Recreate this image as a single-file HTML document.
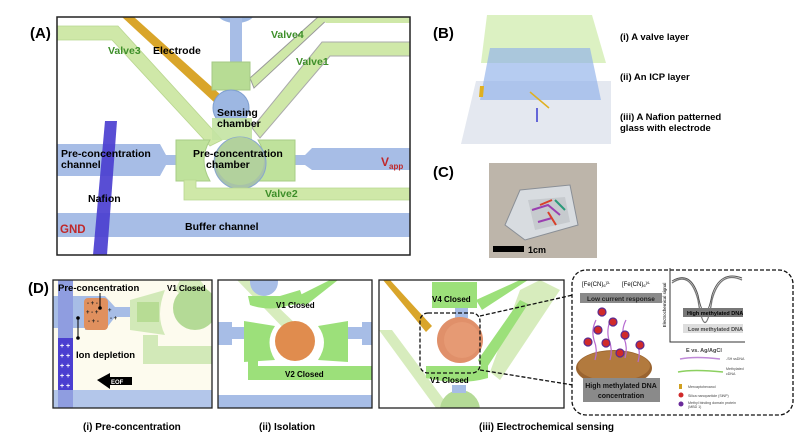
<!DOCTYPE html>
<html><head><meta charset="utf-8"><style>
html,body{margin:0;padding:0;background:#fff;}
svg{display:block;font-family:"Liberation Sans",Arial,sans-serif;font-weight:bold;}
</style></head><body>
<svg width="800" height="441" viewBox="0 0 800 441" xmlns="http://www.w3.org/2000/svg">
<text x="30" y="38" font-size="15">(A)</text>
<text x="433" y="38" font-size="15">(B)</text>
<text x="433" y="177" font-size="15">(C)</text>
<text x="28" y="293" font-size="15">(D)</text>

<defs><clipPath id="ca"><rect x="57" y="17" width="353" height="238"/></clipPath>
<clipPath id="c1"><rect x="53" y="280" width="159" height="128"/></clipPath>
<clipPath id="c2"><rect x="218" y="280" width="154" height="128"/></clipPath>
<clipPath id="c3"><rect x="379" y="280" width="185" height="128"/></clipPath></defs>
<g clip-path="url(#ca)">
<rect x="57" y="17" width="353" height="238" fill="#fff"/>
<polygon points="57,26 118,26 222,140 210,146 112,40 57,40" fill="#cfe8a8" stroke="#b9d690" stroke-width="0.8"/>
<polygon points="122,17 134,17 222,96 215,103" fill="#d9a52a"/>
<ellipse cx="236" cy="14" rx="18" ry="9" fill="#9db7e2"/>
<rect x="230" y="17" width="12" height="48" fill="#a7bde6"/>
<polygon points="250,78 318,17 330,17 254,88" fill="#cfe8a8" stroke="#999" stroke-width="1"/>
<polygon points="318,17 410,17 410,23 326,23" fill="#cfe8a8"/>
<polygon points="252,128 322,42 410,42 410,56 330,56 260,138" fill="#cfe8a8" stroke="#aaa" stroke-width="1"/>
<rect x="212" y="62" width="38" height="28" fill="#b7dc94" stroke="#a6c986"/>
<circle cx="231" cy="108" r="18" fill="#9db7e2" stroke="#7f9fd0"/>
<rect x="212" y="118" width="40" height="22" fill="#c3e3a2" opacity="0.9"/>
<polygon points="57,144 160,144 166,155 186,155 186,165 166,165 160,176 57,176" fill="#a7bde6"/>
<polygon points="285,155 305,155 312,148 410,148 410,170 312,170 305,165 285,165" fill="#a7bde6"/>
<path d="M176,140 L210,140 Q198,160 210,181 L176,181 Z" fill="#bfe29c" stroke="#a7cc86"/>
<path d="M295,140 L258,140 Q270,160 258,181 L295,181 Z" fill="#bfe29c" stroke="#a7cc86"/>
<circle cx="240" cy="163" r="26" fill="#a8c3a8" stroke="#88a6cf"/>
<circle cx="240" cy="161" r="24" fill="#b4d59a" opacity="0.8"/>
<polygon points="184,180 196,180 196,188 410,188 410,200 184,200" fill="#cfe8a8" stroke="#b9d690" stroke-width="0.8"/>
<rect x="57" y="213" width="353" height="24" fill="#a7bde6"/>
<polygon points="105,121 117,121 107,255 93,255" fill="#4b3fd0" opacity="0.92"/>
</g>
<rect x="57" y="17" width="353" height="238" fill="none" stroke="#222" stroke-width="1.5"/>
<g font-size="10.5">
<text x="108" y="54" fill="#3e8f2a">Valve3</text>
<text x="153" y="54">Electrode</text>
<text x="271" y="38" fill="#3e8f2a">Valve4</text>
<text x="296" y="65" fill="#3e8f2a">Valve1</text>
<text x="217" y="116">Sensing</text>
<text x="217" y="127">chamber</text>
<text x="61" y="157">Pre-concentration</text>
<text x="61" y="168">channel</text>
<text x="193" y="157">Pre-concentration</text>
<text x="206" y="168">chamber</text>
<text x="265" y="197" fill="#3e8f2a">Valve2</text>
<text x="88" y="202">Nafion</text>
<text x="185" y="230">Buffer channel</text>
<text x="60" y="233" fill="#c0282a" font-size="11.5">GND</text>
<text x="381" y="166" fill="#c0282a" font-size="12">V<tspan font-size="8" dy="3">app</tspan></text>
</g>

<!-- PANEL B -->
<polygon points="476,81 611,81 611,144 461,144" fill="#e4e8f0"/>
<polygon points="487,15 592,15 606,63 481,63" fill="#d8efbb" opacity="0.9"/>
<polygon points="490,48 590,48 601,100 480,100" fill="#8fb0ea" opacity="0.65"/>
<polygon points="480,86 484,86 483,97 479,97" fill="#e0b020"/>
<line x1="530" y1="92" x2="549" y2="108" stroke="#e0b020" stroke-width="1.5"/>
<line x1="537" y1="108" x2="537" y2="122" stroke="#3a3ad0" stroke-width="1.5"/>
<g font-size="9.5">
<text x="620" y="40">(i) A valve layer</text>
<text x="620" y="80">(ii) An ICP layer</text>
<text x="620" y="120">(iii) A Nafion patterned</text>
<text x="620" y="131">glass with electrode</text>
</g>

<!-- PANEL C -->
<rect x="489" y="163" width="108" height="95" fill="#bdb5aa"/>
<polygon points="520,190 570,185 578,225 525,240 505,225" fill="#d8dce0" stroke="#8a8f96"/>
<polygon points="528,200 565,197 570,222 535,230" fill="#c6cace"/>
<path d="M532,210 L548,205 L560,215 M538,222 L552,218" stroke="#9a3fb0" stroke-width="2" fill="none"/>
<path d="M540,205 L552,200 M548,212 L556,225" stroke="#d8402a" stroke-width="2" fill="none"/>
<path d="M555,200 L565,210" stroke="#2a9a7a" stroke-width="2" fill="none"/>
<rect x="493" y="246" width="31" height="6" fill="#000"/>
<text x="528" y="253" font-size="9">1cm</text>

<!-- box1 -->
<g clip-path="url(#c1)">
<rect x="53" y="280" width="159" height="128" fill="#fdfbee"/>
<rect x="53" y="296" width="40" height="32" fill="#a7bde6"/>
<rect x="53" y="390" width="159" height="18" fill="#b3c6ea"/>
<rect x="58" y="280" width="15" height="128" fill="#8f9de0"/>
<rect x="58" y="338" width="15" height="52" fill="#4b3fd0"/>
<g fill="#fff" font-size="7"><text x="60" y="348">+ +</text><text x="60" y="358">+ +</text><text x="60" y="368">+ +</text><text x="60" y="378">+ +</text><text x="60" y="388">+ +</text></g>
<polygon points="85,296 105,296 115,307 140,307 140,317 115,317 105,330 85,330" fill="#a7bde6"/>
<rect x="84" y="298" width="24" height="32" rx="4" fill="#e0905e"/>
<g fill="#222" font-size="6"><text x="87" y="305">- + -</text><text x="86" y="314">+ - +</text><text x="88" y="323">- + -</text><text x="108" y="312">+</text><text x="110" y="320">- +</text></g>
<polygon points="180,280 200,280 215,300 200,310 175,290" fill="#d7ecbd"/>
<path d="M130,300 L165,290 Q155,315 165,335 L130,330 Z" fill="#d2e9b8"/>
<rect x="137" y="302" width="22" height="20" fill="#b7dc94"/>
<rect x="143" y="335" width="15" height="15" fill="#d2e9b8"/>
<rect x="143" y="346" width="75" height="18" fill="#d2e9b8"/>
<circle cx="195" cy="308" r="22" fill="#b4da96"/>
<polygon points="97,380 110,373 110,377 132,377 132,385 110,385 110,389" fill="#000"/>
<text x="111" y="384" fill="#fff" font-size="6">EOF</text>
<line x1="100" y1="293" x2="100" y2="308" stroke="#000"/><circle cx="100" cy="308" r="1.8"/>
<line x1="78" y1="318" x2="78" y2="338" stroke="#000"/><circle cx="78" cy="318" r="1.8"/><circle cx="78" cy="338" r="1.8"/>
</g>
<rect x="53" y="280" width="159" height="128" fill="none" stroke="#222" stroke-width="1.3"/>
<text x="58" y="291" font-size="9.5">Pre-concentration</text>
<text x="167" y="291" font-size="8">V1 Closed</text>
<text x="76" y="358" font-size="9.5">Ion depletion</text>

<!-- box2 -->
<g clip-path="url(#c2)">
<rect x="218" y="280" width="154" height="128" fill="#fff"/>
<polygon points="237,280 250,280 300,328 290,335" fill="#d7ecbd"/>
<rect x="218" y="327" width="30" height="12" fill="#a7bde6"/>
<polygon points="218,322 232,322 232,345 218,345" fill="#a7bde6"/>
<rect x="345" y="327" width="27" height="12" fill="#a7bde6"/>
<rect x="362" y="322" width="10" height="23" fill="#a7bde6"/>
<circle cx="264" cy="282" r="14" fill="#a7bde6"/>
<path d="M248,296 L280,296 L300,290 L305,304 L290,305 Q270,312 250,305 Z" fill="#9ce07a"/>
<polygon points="298,296 330,280 338,280 305,306" fill="#9ce07a"/>
<path d="M244,321 L275,326 Q264,342 275,360 L244,362 Z" fill="#9ce07a"/>
<path d="M348,321 L318,326 Q330,342 318,360 L348,362 Z" fill="#9ce07a"/>
<rect x="248" y="358" width="10" height="12" fill="#9ce07a"/>
<rect x="248" y="366" width="124" height="14" fill="#9ce07a"/>
<circle cx="295" cy="341" r="20" fill="#e08c4e"/>
<rect x="218" y="395" width="154" height="13" fill="#a7bde6"/>
</g>
<rect x="218" y="280" width="154" height="128" fill="none" stroke="#222" stroke-width="1.3"/>
<text x="276" y="308" font-size="8">V1 Closed</text>
<text x="285" y="377" font-size="8">V2 Closed</text>

<!-- box3 -->
<g clip-path="url(#c3)">
<rect x="379" y="280" width="185" height="128" fill="#fff"/>
<polygon points="379,330 392,330 450,408 436,408" fill="#d7ecbd"/>
<polygon points="520,290 540,280 560,290 500,380 490,372" fill="#d7ecbd"/>
<polygon points="383,280 390,280 432,326 426,332" fill="#d9a52a"/>
<rect x="432" y="282" width="45" height="26" fill="#9ce07a"/>
<polygon points="476,300 520,280 528,280 482,310" fill="#9ce07a"/>
<rect x="455" y="308" width="13" height="10" fill="#a7bde6"/>
<polygon points="478,360 520,300 528,304 484,372" fill="#9ce07a"/>
<path d="M426,366 L488,366 L488,378 Q460,386 426,378 Z" fill="#9ce07a"/>
<circle cx="460" cy="340" r="23" fill="#e0906a"/>
<circle cx="462" cy="340" r="18" fill="#e69a74"/>
<circle cx="460" cy="410" r="20" fill="#b4da96"/>
<rect x="452" y="385" width="14" height="8" fill="#a7bde6"/>
</g>
<rect x="379" y="280" width="185" height="128" fill="none" stroke="#222" stroke-width="1.3"/>
<rect x="420" y="313" width="60" height="60" rx="8" fill="none" stroke="#111" stroke-width="1.3" stroke-dasharray="4,2"/>
<text x="432" y="302" font-size="8">V4 Closed</text>
<text x="430" y="383" font-size="8">V1 Closed</text>
<line x1="480" y1="316" x2="573" y2="295" stroke="#111" stroke-width="1.3" stroke-dasharray="4,2"/>
<line x1="480" y1="370" x2="573" y2="385" stroke="#111" stroke-width="1.3" stroke-dasharray="4,2"/>

<!-- inset -->
<rect x="572" y="270" width="221" height="145" rx="14" fill="#fff" stroke="#111" stroke-width="1.3" stroke-dasharray="4,2"/>
<g font-size="6" font-weight="normal">
<text x="582" y="286">[Fe(CN)<tspan font-size="4" dy="1">6</tspan><tspan dy="-3" font-size="4">]3-</tspan></text>
<text x="622" y="286">[Fe(CN)<tspan font-size="4" dy="1">6</tspan><tspan dy="-3" font-size="4">]4-</tspan></text>
</g>
<rect x="580" y="293" width="82" height="10" fill="#8a8a8a"/>
<text x="587" y="301" font-size="6.5" fill="#222">Low current response</text>
<ellipse cx="614" cy="368" rx="38" ry="18" fill="#9a6430"/>
<ellipse cx="614" cy="366" rx="36" ry="15" fill="#b27a3e"/>
<g stroke="#b66ad0" stroke-width="1.2" fill="none">
<path d="M595,360 q3,-10 -1,-20 q-3,-10 2,-20"/><path d="M610,360 q3,-10 -1,-20 q-3,-10 2,-22"/><path d="M625,358 q3,-10 -1,-20 q-3,-8 2,-18"/><path d="M638,362 q3,-10 -1,-20"/>
</g>
<g fill="#d02a2a" stroke="#5a2a90" stroke-width="1.2">
<circle cx="598" cy="330" r="4"/><circle cx="613" cy="322" r="4"/><circle cx="606" cy="343" r="4"/><circle cx="625" cy="335" r="4"/><circle cx="640" cy="345" r="4"/><circle cx="620" cy="353" r="4"/><circle cx="588" cy="342" r="4"/><circle cx="602" cy="312" r="4"/>
</g>
<rect x="583" y="378" width="77" height="24" fill="#8a8a8a"/>
<text x="621" y="388" font-size="7" text-anchor="middle" fill="#111">High methylated DNA</text>
<text x="621" y="398" font-size="7" text-anchor="middle" fill="#111">concentration</text>
<path d="M670,268 L670,342 L745,342" stroke="#333" fill="none"/>
<text x="666" y="305" font-size="4.5" transform="rotate(-90 666 305)" text-anchor="middle" font-weight="normal">Electrochemical signal</text>
<path d="M672,283 Q690,270 698,300 Q705,345 712,300 Q720,270 742,280" stroke="#777" fill="none" stroke-width="1.3"/>
<path d="M672,281 Q690,270 698,295 Q705,330 712,295 Q720,270 742,278" stroke="#555" fill="none" stroke-width="1"/>
<rect x="683" y="308" width="60" height="9" fill="#777"/>
<text x="687" y="315" font-size="5.5">High methylated DNA</text>
<rect x="683" y="324" width="60" height="9" fill="#ddd"/>
<text x="688" y="331" font-size="5.5" fill="#444">Low methylated DNA</text>
<text x="686" y="352" font-size="5.5" fill="#444">E vs. Ag/AgCl</text>
<g font-size="3.6" font-weight="normal" fill="#444">
<path d="M680,359 q15,-3 40,0" stroke="#c08ad8" fill="none" stroke-width="1.5"/><text x="726" y="360">-SH ssDNA</text>
<path d="M678,372 q15,-3 45,0" stroke="#8cd060" fill="none" stroke-width="1.5"/><text x="726" y="370">Methylated</text><text x="726" y="375">cDNA</text>
<rect x="679" y="384" width="3" height="5" fill="#d0a020"/><text x="688" y="388">Mercaptohexanol</text>
<circle cx="681" cy="395" r="2.5" fill="#d02a2a"/><text x="688" y="397">Silica nanoparticle (SiNP)</text>
<circle cx="681" cy="404" r="2.5" fill="#6a2a9a"/><text x="688" y="404">Methyl binding domain protein</text><text x="688" y="408">(MBD 1)</text>
</g>

<g font-size="10">
<text x="83" y="430">(i) Pre-concentration</text>
<text x="259" y="430">(ii) Isolation</text>
<text x="479" y="430">(iii) Electrochemical sensing</text>
</g>
</svg>
</body></html>
